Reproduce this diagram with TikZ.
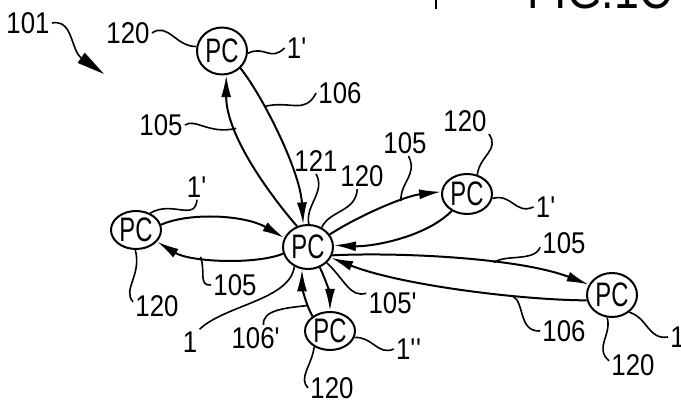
\documentclass[tikz,border=0pt]{standalone}
\usepackage{fontspec}
\setmainfont{Liberation Sans}[FakeStretch=0.86]
\newfontfamily\pcfont{Liberation Sans}[FakeStretch=0.7]
\usetikzlibrary{shapes.geometric,arrows.meta}
\newcommand{\prm}{\textquotesingle}

\begin{document}
\begin{tikzpicture}[x=0.5pt, y=0.5pt,
        pc/.style={ellipse, draw, line width=1pt, inner sep=0pt, minimum width=25pt, minimum height=22pt, font=\pcfont\fontsize{17}{17}\selectfont},
        tag/.style={inner sep=1pt, font=\fontsize{15}{15}\selectfont},
        link/.style={line width=1pt, -{Latex[length=11pt,width=5pt]}},
        lead/.style={line width=0.8pt}
    ]
        \path[use as bounding box, clip] (0,0) rectangle (681,-400);

        \node[tag, inner sep=0pt, anchor=base west, font=\fontsize{26}{26}\selectfont] (fig) at (527,-9) {FIG.1C};
        \draw[lead] (436,0) -- (436,-9);

        \node[pc, minimum height=23.5pt] (pcT) at (222,-51) {PC};
        \node[pc] (pcC) at (308,-247) {PC};
        \node[pc, minimum height=19pt] (pcL) at (136,-230) {PC};
        \node[pc, minimum height=20pt] (pcR) at (467,-194) {PC};
        \node[pc] (pcF) at (612,-295) {PC};
        \node[pc, minimum height=19pt] (pcB) at (330,-331) {PC};

        \node[tag] (l101) at (28,-23) {101};
        \node[tag] (l120t) at (128,-33) {120};
        \node[tag] (l1t) at (297,-48) {1\prm};
        \node[tag] (l106t) at (340,-93) {106};
        \node[tag] (l105t) at (161,-125) {105};
        \node[tag] (l121) at (316,-161) {121};
        \node[tag] (l120c) at (362,-176) {120};
        \node[tag] (l105r) at (405,-143) {105};
        \node[tag] (l120r) at (465,-121) {120};
        \node[tag] (l1r) at (546,-207) {1\prm};
        \node[tag] (l1l) at (197,-187) {1\prm};
        \node[tag] (l120l) at (157,-306) {120};
        \node[tag] (l105l) at (235,-285) {105};
        \node[tag] (l1b) at (190,-342) {1};
        \node[tag] (l106b) at (256,-338) {106\prm};
        \node[tag] (l105b) at (393,-303) {105\prm};
        \node[tag] (l1bb) at (409,-349) {1\prm\prm};
        \node[tag] (l120b) at (332,-388) {120};
        \node[tag] (l105f) at (564,-243) {105};
        \node[tag] (l106f) at (564,-331) {106};
        \node[tag] (l120f) at (633,-365) {120};
        \node[tag, anchor=west] (l1f) at (668,-337) {1\prm};

        \draw[link] (pcC.118) .. controls (270,-195) and (226,-135) .. (pcT.280) coordinate[pos=0.7] (k105t);
        \draw[link] (pcT.317) .. controls (262,-95) and (300,-170) .. (pcC.102) coordinate[pos=0.32] (k106t);
        \draw[link] (pcL.12) .. controls (190,-212) and (245,-215) .. (pcC.159);
        \draw[link] (pcC.195) .. controls (255,-265) and (190,-262) .. (pcL.331) coordinate[pos=0.65] (k105l);
        \draw[link] (pcC.30) .. controls (360,-215) and (405,-196) .. (pcR.175) coordinate[pos=0.65] (k105r);
        \draw[link] (pcR.228) .. controls (425,-238) and (370,-247) .. (pcC.4);
        \draw[link] (pcC.341) .. controls (400,-252) and (520,-258) .. (pcF.156) coordinate[pos=0.62] (k105f);
        \draw[link] (pcF.192) .. controls (520,-300) and (400,-285) .. (pcC.335) coordinate[pos=0.31] (k106f);
        \draw[link] (pcB.140) .. controls (305,-303) and (302,-285) .. (pcC.255) coordinate[pos=0.25] (k106b);
        \draw[link] (pcC.300) .. controls (326,-280) and (330,-295) .. (pcB.90);

        \coordinate (sys) at (104,-74);
        \draw[lead, -{Triangle[length=14pt,width=6pt]}] (l101.east) .. controls (68,-20) and (70,-36) .. (75,-48) .. controls (77,-54) and (80,-57) .. (sys);
        \draw[lead] (l120t.east) .. controls (168,-22) and (176,-47) .. (pcT.170);
        \draw[lead] (pcT.355) .. controls (265,-45) and (270,-62) .. (l1t.west);
        \draw[lead] (l106t.west) .. controls (305,-115) and (290,-100) .. (k106t);
        \draw[lead] (l105t.east) .. controls (195,-118) and (210,-135) .. (k105t);
        \draw[lead] (l121.south) .. controls (326,-192) and (305,-205) .. (pcC.88);
        \draw[lead] (l120c.-110) .. controls (356,-212) and (330,-210) .. (pcC.55);
        \draw[lead] (l105r.-75) .. controls (418,-175) and (400,-182) .. (k105r);
        \draw[lead] (l120r.south east) .. controls (500,-150) and (480,-155) .. (pcR.62);
        \draw[lead] (pcR.350) .. controls (512,-193) and (515,-215) .. (l1r.west);
        \draw[lead] (pcL.50) .. controls (172,-200) and (195,-222) .. (l1l.south);
        \draw[lead] (pcL.268) .. controls (142,-275) and (122,-290) .. (l120l.170);
        \draw[lead] (k105l) .. controls (206,-272) and (198,-286) .. (l105l.west);
        \draw[lead] (l1b.north east) .. controls (225,-305) and (290,-300) .. (pcC.235);
        \draw[lead] (l106b.60) .. controls (262,-310) and (285,-308) .. (k106b);
        \draw[lead] (l105b.160) .. controls (350,-298) and (345,-280) .. (pcC.320);
        \draw[lead] (pcB.345) .. controls (372,-336) and (378,-356) .. (l1bb.west);
        \draw[lead] (pcB.225) .. controls (312,-365) and (298,-378) .. (l120b.west);
        \draw[lead] (k105f) .. controls (505,-254) and (535,-262) .. (l105f.-170);
        \draw[lead] (k106f) .. controls (525,-302) and (518,-332) .. (l106f.west);
        \draw[lead] (pcF.258) .. controls (612,-335) and (594,-348) .. (l120f.170);
        \draw[lead] (pcF.315) .. controls (648,-318) and (648,-340) .. (l1f.west);
    \end{tikzpicture}
\end{document}
